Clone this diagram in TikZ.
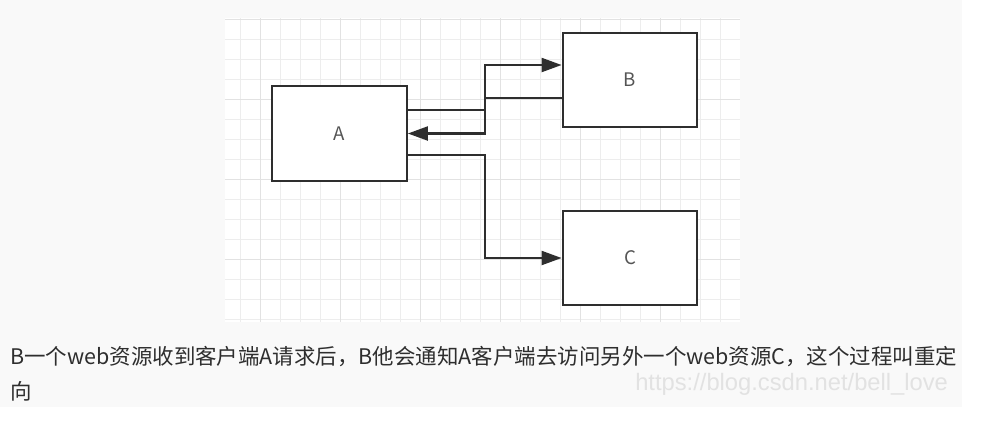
\documentclass[tikz,border=0pt]{standalone}
\usepackage{fontspec}
\usepackage{tikz}
\usetikzlibrary{arrows.meta}
\newfontfamily\cjk{Noto Sans CJK SC}
\newfontfamily\wmfont{Liberation Sans}
\definecolor{pagebg}{HTML}{F9F9F9}
\definecolor{gridminor}{HTML}{EDEDED}
\definecolor{gridmajor}{HTML}{E2E2E2}
\definecolor{ink}{HTML}{2E2E2E}
\definecolor{labelgray}{HTML}{555555}
\definecolor{wmgray}{HTML}{E2E2E2}
\begin{document}
\begin{tikzpicture}[x=0.75pt,y=-0.75pt,%1px単位
    box/.style={draw=ink, line width=1.6pt, fill=white, minimum width=101pt, minimum height=71pt, font=\cjk\fontsize{14pt}{16pt}\selectfont, text=labelgray},
    link/.style={draw=ink, line width=1.6pt, -{Triangle[length=15pt,width=10.5pt]}},
    txt/.style={font=\cjk\fontsize{16.1pt}{18pt}\selectfont, text=ink, inner sep=0pt, anchor=base west}]
                \useasboundingbox (0,0) rectangle (981,444);
                \fill[white] (0,0) rectangle (981,444);%背景
                \fill[pagebg] (0,0) rectangle (962,407);
                \fill[white] (225,18) rectangle (740,322);%方眼
                \foreach \x in {240,260,...,720} \draw[gridminor, line width=0.75pt] (\x,18)--(\x,322);
                \foreach \y in {19,39,...,319} \draw[gridminor, line width=0.75pt] (225,\y)--(740,\y);
                \foreach \x in {260,340,...,660} \draw[gridmajor, line width=0.75pt] (\x,18)--(\x,322);
                \foreach \y in {19,99,179,259} \draw[gridmajor, line width=0.75pt] (225,\y)--(740,\y);
                \node[box] (a) at (339.5,133.5) {A};
                \node[box] (b) at (630,80) {B};
                \node[box] (c) at (630,258) {C};
                \coordinate (bus) at (485,0);%折れ位置
                \draw[link] (a.east |- 0,110) -| (bus |- 0,65) -- (b.west |- 0,65);
                \draw[link] (b.west |- 0,98) -| (bus |- a) -- (a);
                \draw[link] (a.east |- 0,155) -| (bus |- c) -- (c);
                \node[txt] (line1) at (10,364) {B一个web资源收到客户端A请求后，B他会通知A客户端去访问另外一个web资源C，这个过程叫重定};
                \node[txt] (line2) at (10,399) {向};
                \node[font=\wmfont\fontsize{17.8pt}{20pt}\selectfont, text=wmgray, inner sep=0pt, anchor=base west] (mark) at (635,390) {https://blog.csdn.net/bell\_love};%透かし
            \end{tikzpicture}
\end{document}
